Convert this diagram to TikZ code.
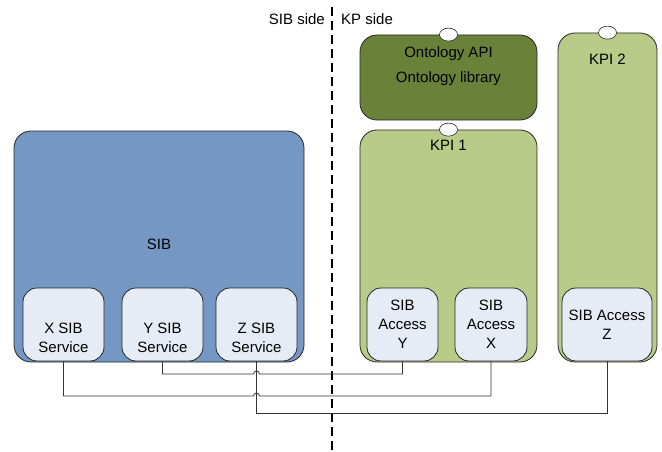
\documentclass[tikz,border=0pt]{standalone}
\usepackage{fontspec}
\setmainfont{Liberation Sans}
\usepackage{tikz}
\usetikzlibrary{shapes.geometric}
\usepackage{xcolor}
\definecolor{sibblue}{RGB}{116,152,195}
\definecolor{kpgreen}{RGB}{184,203,137}
\definecolor{ontgreen}{RGB}{106,129,57}
\definecolor{boxpale}{RGB}{230,236,246}
\tikzset{
  txt/.style = {align=center, inner sep=0pt, font=\fontsize{15}{19}\selectfont},
  bigbox/.style = {draw=black!85, line width=0.8pt, rounded corners=17pt,
    inner sep=0pt},
  sib_b/.style = {bigbox, fill=sibblue},% bloc SIB
  kpi_b/.style = {bigbox, fill=kpgreen},% bloc KPI
  ont_b/.style = {bigbox, fill=ontgreen},% bloc ontologie
  svc/.style = {txt, draw=black!85, line width=0.8pt, fill=boxpale,
    rounded corners=14pt, minimum height=73pt},% service / acces
  port/.style = {ellipse, draw=black!85, fill=white, line width=0.6pt,
    minimum width=18pt, minimum height=13pt, inner sep=0pt},
  wire/.style = {draw=black!80, line width=0.8pt}
}
\begin{document}
\begin{tikzpicture}[x=1pt,y=1pt]
\useasboundingbox (0,0) rectangle (662,451);
% separation
\draw [line width=1.3pt, dash pattern=on 9pt off 5pt] (332,444) -- (332,0);
\node [txt, anchor=east] (sibside) at (325,432) {SIB side};
\node [txt, anchor=west] (kpside) at (341,432) {KP side};
% SIB
\node [sib_b, minimum width=290pt, minimum height=231pt] (sib) at (159,204.5) {};
\node [txt] (sibname) at (159,207) {SIB};
\node [svc, minimum width=81pt] (xsvc) at (63.5,126.5) {\mbox{}\\[19pt]X SIB\\Service};
\node [svc, minimum width=81pt] (ysvc) at (162.5,126.5) {\mbox{}\\[19pt]Y SIB\\Service};
\node [svc, minimum width=81pt] (zsvc) at (256.5,126.5) {\mbox{}\\[19pt]Z SIB\\Service};
% KP side
\node [ont_b, minimum width=177pt, minimum height=85pt] (onto) at (448.5,373.5) {};
\node [txt] (ontapi) at (448.5,397) {Ontology API};
\node [txt] (ontlib) at (448.5,372) {Ontology library};
\node [kpi_b, minimum width=177pt, minimum height=232pt] (kpione) at (448.5,205) {};
\node [txt] (kpionename) at (448.5,306) {KPI 1};
\node [kpi_b, minimum width=99pt, minimum height=329pt] (kpitwo) at (607.5,253.5) {};
\node [txt] (kpitwoname) at (607.5,392) {KPI 2};
\node [svc, minimum width=71pt] (accy) at (402.5,126.5) {SIB\\Access\\Y};
\node [svc, minimum width=72pt] (accx) at (491,126.5) {SIB\\Access\\X};
\node [svc, minimum width=90pt] (accz) at (607,126.5) {SIB Access\\Z};
\node [port] (ontoport) at (onto.north) {};
\node [port] (kpioneport) at (kpione.north) {};
\node [port] (kpitwoport) at (kpitwo.north) {};
% liaisons
\draw [wire] (zsvc.south) -- (zsvc.south |- 0,38) -- (accz.south |- 0,38) -- (accz.south);
\draw [wire] (ysvc.south) -- (ysvc.south |- 0,77) -- (253.5,77)
  arc [start angle=180, end angle=0, radius=3] -- (accy.south |- 0,77) -- (accy.south);
\draw [wire] (xsvc.south) -- (xsvc.south |- 0,55) -- (253.5,55)
  arc [start angle=180, end angle=0, radius=3] -- (accx.south |- 0,55) -- (accx.south);
\end{tikzpicture}
\end{document}
